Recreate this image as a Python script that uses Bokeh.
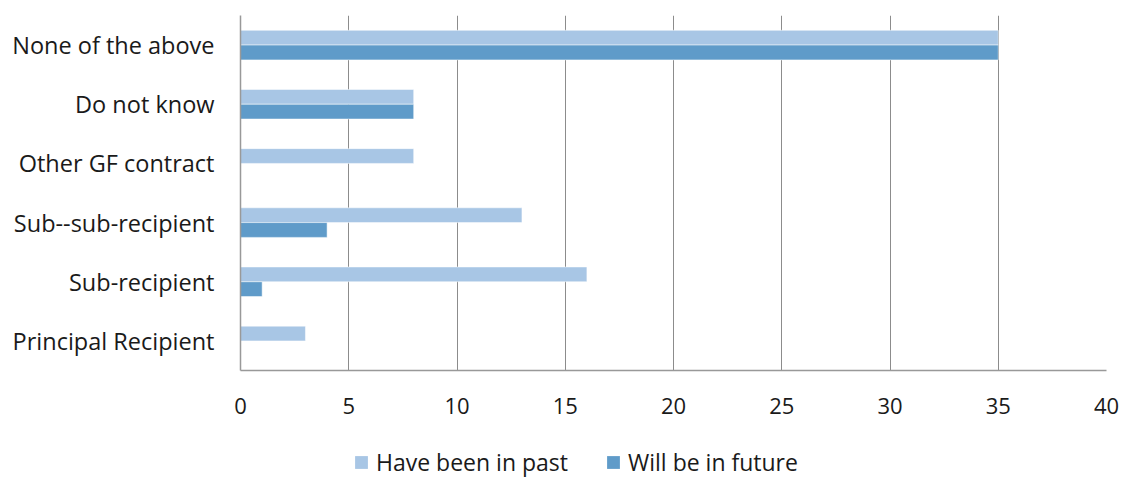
from bokeh.plotting import figure
from bokeh.layouts import column
from bokeh.models import FactorRange, Range1d, Legend, LegendItem, ColumnDataSource, FixedTicker
from bokeh.transform import dodge
from bokeh.embed import file_html
from bokeh.resources import INLINE

# Survey responses: role in Global Fund grants
categories = ["Principal Recipient", "Sub-recipient", "Sub--sub-recipient",
              "Other GF contract", "Do not know", "None of the above"]
past = [3, 16, 13, 8, 8, 35]
future = [0, 1, 4, 0, 8, 35]
series_names = ["Have been in past", "Will be in future"]
x_ticks = [0, 5, 10, 15, 20, 25, 30, 35, 40]

COL_PAST = "#A8C6E5"
COL_FUTURE = "#5F9BC9"
FONT = "Open Sans"
TEXT_COL = "#1a1a1a"

src = ColumnDataSource(dict(cat=categories, past=past, future=future))

p = figure(width=1123, height=440, output_backend="svg", toolbar_location=None,
           y_range=FactorRange(*categories, range_padding=0),
           x_range=Range1d(0, 40),
           min_border_left=240, min_border_right=17, min_border_top=15,
           min_border_bottom=70)
p.outline_line_color = None
p.background_fill_color = "white"

bar_style = dict(height=0.25, source=src, line_color="white", line_width=0.5)
p.hbar(y=dodge("cat", 0.125, range=p.y_range), right="past", left=0,
       fill_color=COL_PAST, **bar_style)
p.hbar(y=dodge("cat", -0.125, range=p.y_range), right="future", left=0,
       fill_color=COL_FUTURE, **bar_style)

# vertical gridlines only
p.ygrid.grid_line_color = None
p.xgrid.grid_line_color = "#8C8C8C"
p.xgrid.grid_line_width = 1
p.xgrid.level = "underlay"

p.xaxis.ticker = FixedTicker(ticks=x_ticks)
for ax in (p.xaxis[0], p.yaxis[0]):
    ax.axis_line_color = "#999999"
    ax.axis_line_width = 1.5
    ax.major_tick_line_color = None
    ax.minor_tick_line_color = None
    ax.major_label_text_font = FONT
    ax.major_label_text_color = TEXT_COL
p.xaxis.major_label_text_font_size = "22px"
p.xaxis.major_label_standoff = 21
p.yaxis.major_label_text_font_size = "23.5px"
p.yaxis.major_label_standoff = 20

# legend strip underneath the chart (its frame lines up with the chart frame)
leg = figure(width=1123, height=38, output_backend="svg", toolbar_location=None,
             x_range=Range1d(0, 1), y_range=Range1d(0, 1),
             min_border_left=0, min_border_right=0, min_border_top=0,
             min_border_bottom=0)
leg.axis.visible = False
leg.grid.visible = False
leg.outline_line_color = None
# zero-size keys: they only supply the swatch style to the legend
key_src = ColumnDataSource(dict(y=[0.5], left=[0], right=[0]))
key_past = leg.hbar(y="y", left="left", right="right", height=0, source=key_src,
                    fill_color=COL_PAST, line_color=None)
key_future = leg.hbar(y="y", left="left", right="right", height=0, source=key_src,
                      fill_color=COL_FUTURE, line_color=None)

legend = Legend(items=[LegendItem(label=series_names[0], renderers=[key_past]),
                       LegendItem(label=series_names[1], renderers=[key_future])],
                orientation="horizontal", location=(113, 0),
                glyph_width=16, glyph_height=16, label_standoff=7, spacing=37,
                padding=0, margin=0, border_line_color=None,
                background_fill_alpha=0,
                label_text_font=FONT, label_text_font_size="23px",
                label_text_line_height=0.7, label_height=16,
                label_text_color=TEXT_COL)
leg.add_layout(legend, "center")

layout = column(p, leg, spacing=0)
open("out.html", "w").write(file_html(layout, INLINE))
